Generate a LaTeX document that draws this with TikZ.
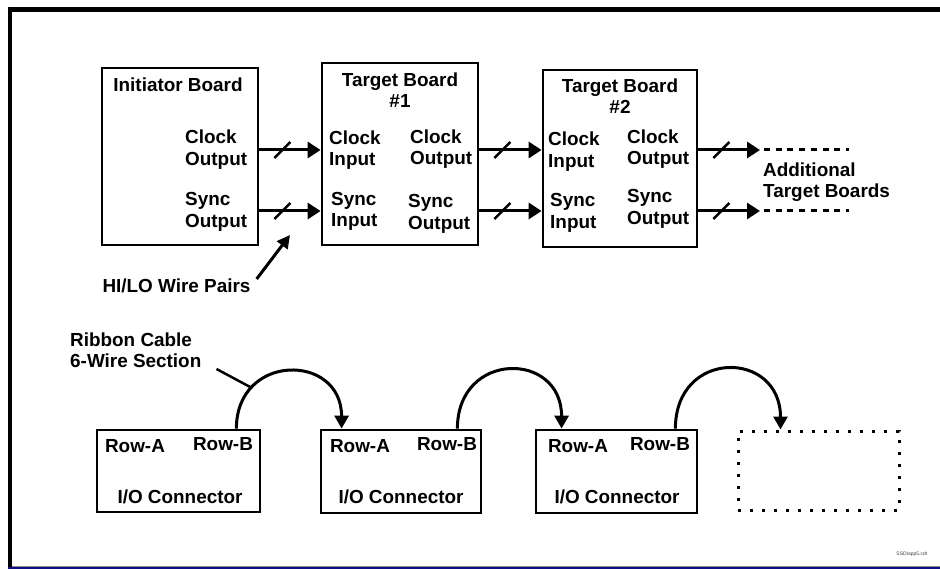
\documentclass[tikz,border=0pt]{standalone}
\usepackage{fontspec}
\setmainfont{Liberation Sans}
\usetikzlibrary{calc,arrows.meta,positioning}
\definecolor{navy}{RGB}{12,12,135}
\tikzset{board/.style={
  draw,
  line width=2.8pt,
  inner sep=0pt}}
\tikzset{lbl/.style={
  font=\fontsize{18.9}{21.5}\selectfont\bfseries,
  inner sep=0pt,
  align=left}}
\tikzset{sig/.style={
  line width=3pt,
  -{Triangle[length=13pt,width=16pt]}}}
\tikzset{cable/.style={
  line width=3pt,
  -{Triangle[length=13pt,width=14pt]}}}

\begin{document}
\begin{tikzpicture}[
  x=1pt,y=-1pt,
  slash/.style={line width=2.5pt},
  more/.style={line width=3pt, dash pattern=on 6pt off 5.7pt}
]
  \useasboundingbox (0,0) rectangle (940,569);

  %%%% Frame %%%%
  \draw[line width=5pt] (8,9.5) -- (940,9.5);
  \draw[line width=4pt] (10,7) -- (10,567);
  \draw[black!45,line width=1pt] (12,566) -- (940,566);
  \draw[navy,line width=2.5pt] (8,568) -- (940,568);

  %%%% Boards %%%%
  \node[board,minimum width=156pt,minimum height=177pt] (init) at (180,156.5) {};
  \node[board,minimum width=156pt,minimum height=182pt] (tb1) at (400,154) {};
  \node[board,minimum width=154pt,minimum height=177pt] (tb2) at (620,158.5) {};

  %% Board texts
  \node[lbl] (initname) at (178,85) {Initiator Board};
  \node[lbl,anchor=west] (initclk) at (185,149.5) {Clock\\Output};
  \node[lbl,anchor=west] (initsync) at (185,212) {Sync\\Output};

  \node[lbl,align=center] (tb1name) at (400,90) {Target Board\\\#1};
  \node[lbl,anchor=west] (tb1clkin) at (329,150) {Clock\\Input};
  \node[lbl,anchor=west] (tb1clkout) at (410,149) {Clock\\Output};
  \node[lbl,anchor=west] (tb1syncin) at (331,211.5) {Sync\\Input};
  \node[lbl,anchor=west] (tb1syncout) at (408,214) {Sync\\Output};

  \node[lbl,align=center] (tb2name) at (620,96) {Target Board\\\#2};
  \node[lbl,anchor=west] (tb2clkin) at (548,151.5) {Clock\\Input};
  \node[lbl,anchor=west] (tb2clkout) at (627,149) {Clock\\Output};
  \node[lbl,anchor=west] (tb2syncin) at (550,213) {Sync\\Input};
  \node[lbl,anchor=west] (tb2syncout) at (627,209) {Sync\\Output};

  \node[lbl,anchor=west] (addl) at (763,182) {Additional\\Target Boards};

  %% Signal levels
  \coordinate (clk) at (0,150);
  \coordinate (syn) at (0,211);
  \coordinate (clkend) at (760,150);
  \coordinate (synend) at (760,211);

  %% Wire pairs
  \draw[sig] (init.east |- clk) -- (tb1.west |- clk);
  \draw[sig] (init.east |- syn) -- (tb1.west |- syn);
  \draw[sig] (tb1.east |- clk) -- (tb2.west |- clk);
  \draw[sig] (tb1.east |- syn) -- (tb2.west |- syn);
  \draw[sig] (tb2.east |- clk) -- (clkend);
  \draw[sig] (tb2.east |- syn) -- (synend);
  \draw[more] ($(clkend)+(4,0)$) -- ++(85,0);
  \draw[more] ($(synend)+(4,0)$) -- ++(85,0);

  %% Slash marks
  \foreach \b/\y in {init/clk,init/syn,tb1/clk,tb1/syn,tb2/clk,tb2/syn}{
    \draw[slash] ($(\b.east |- \y)+(23,0)$) +(-8,8) -- +(8,-8);
  }

  %% HI/LO label
  \node[lbl] (hilo) at (176.5,286) {HI/LO Wire Pairs};
  \coordinate (hilotip) at (290,235);
  \draw[line width=3pt,-{Triangle[length=13pt,width=13pt]}] ($(hilo.east)+(6,-7)$) -- (hilotip);

  %%%% I/O connectors %%%%
  \node[board,minimum width=163pt,minimum height=82pt] (io1) at (178.5,471) {};
  \node[board,minimum width=160pt,minimum height=83pt] (io2) at (401,471.5) {};
  \node[board,minimum width=161pt,minimum height=83pt] (io3) at (616.5,471.5) {};
  \node[draw,line width=3pt,dash pattern=on 3pt off 9pt,
    minimum width=161pt,minimum height=79pt,inner sep=0pt] (io4) at (818.5,470.5) {};

  \foreach \n/\a/\b/\c in {1/135/223/180,2/360/447/401,3/578/660/617}{
    \node[lbl] (rowa\n) at (\a,446) {Row-A};
    \node[lbl] (rowb\n) at (\b,444) {Row-B};
    \node[lbl] (ioname\n) at (\c,497) {I/O Connector};
  }

  %% Ribbon cables
  \draw[cable] ($(io1.north east)+(-25,0)$) .. controls +(0,-76) and +(0,-76) .. ($(io2.north west)+(22,0)$);
  \draw[cable] ($(io2.north east)+(-25,0)$) .. controls +(0,-78) and +(0,-78) .. ($(io3.north west)+(27,0)$);
  \draw[cable] ($(io3.north east)+(-23,0)$) .. controls +(0,-80) and +(0,-80) .. ($(io4.north west)+(44,0)$);

  \node[lbl,anchor=west] (ribbon) at (70,350) {Ribbon Cable\\6-Wire Section};
  \coordinate (ribtip) at (252,388);
  \draw[line width=2.5pt] ($(ribbon.east)+(15,19)$) -- (ribtip);

  %% File name
  \node[font=\fontsize{5}{6}\selectfont,text=black!75,inner sep=0pt] (fname) at (912,554) {SSDIapp5.cdr};

\end{tikzpicture}
\end{document}
